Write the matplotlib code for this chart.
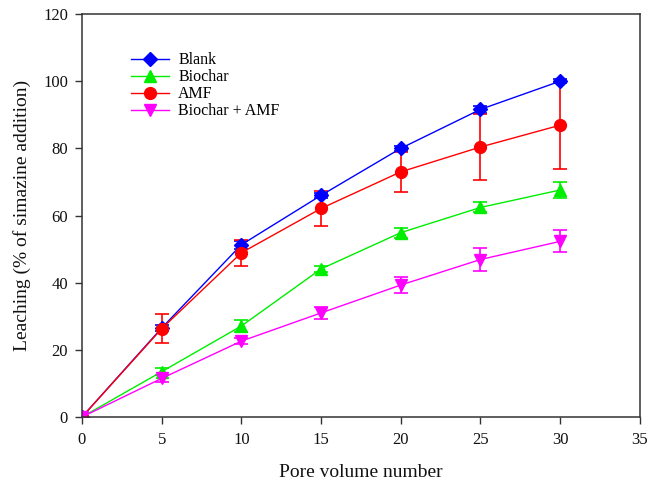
import numpy as np
import matplotlib.pyplot as plt

plt.rcParams["font.family"] = ["Liberation Serif", "DejaVu Serif"]

pore_volume = [0, 5, 10, 15, 20, 25, 30]

blank = [0, 26.5, 51.3, 66.0, 80.0, 91.6, 100.0]
blank_err = [0, 1.0, 1.2, 0.8, 0.8, 1.0, 0.5]

biochar = [0, 13.5, 27.1, 44.1, 54.9, 62.4, 67.6]
biochar_err = [0, 1.0, 1.7, 0.8, 1.5, 1.5, 2.4]

amf = [0, 26.3, 48.9, 62.1, 73.0, 80.4, 86.9]
amf_err = [0, 4.4, 3.9, 5.3, 6.0, 9.7, 13.0]

biochar_amf = [0, 11.5, 22.6, 31.0, 39.3, 46.9, 52.3]
biochar_amf_err = [0, 1.0, 1.0, 1.7, 2.4, 3.4, 3.3]

series = [
    ("Blank", blank, blank_err, "#0000ff", "D", 7),
    ("Biochar", biochar, biochar_err, "#00ee00", "^", 8),
    ("AMF", amf, amf_err, "#ff0000", "o", 8.5),
    ("Biochar + AMF", biochar_amf, biochar_amf_err, "#ff00ff", "v", 8),
]

fig = plt.figure(figsize=(6.48, 4.83), dpi=100)
ax = fig.add_axes([0.1265, 0.1366, 0.861, 0.8344])

handles = []
for label, y, err, color, marker, ms in series:
    eb = ax.errorbar(pore_volume, y, yerr=err, color=color, marker=marker,
                     markersize=ms, linewidth=1.0, elinewidth=1.2, capsize=5,
                     capthick=1.2, label=label)
    # keep only the line+marker for the legend
    handles.append(eb[0])

ax.set_xlim(0, 35)
ax.set_ylim(0, 120)
ax.set_xticks(np.arange(0, 36, 5))
ax.set_yticks(np.arange(0, 121, 20))
ax.tick_params(direction="out", length=5, width=1, labelsize=12,
               colors="#333333", labelcolor="#111111")
ax.tick_params(axis="x", pad=6)
ax.tick_params(axis="y", pad=5)
for sp in ax.spines.values():
    sp.set_linewidth(1.1)
    sp.set_color("#333333")

ax.set_xlabel("Pore volume number", fontsize=14, labelpad=11, color="#111111")
ax.set_ylabel("Leaching (% of simazine addition)", fontsize=14, labelpad=9,
              color="#111111")

ax.legend(handles, [s[0] for s in series], loc="upper left",
          bbox_to_anchor=(0.088, 0.905), frameon=False, fontsize=11.5,
          handlelength=2.4, labelspacing=0.06, handletextpad=0.55,
          borderaxespad=0, borderpad=0)

fig.savefig("out.png", dpi=100)
